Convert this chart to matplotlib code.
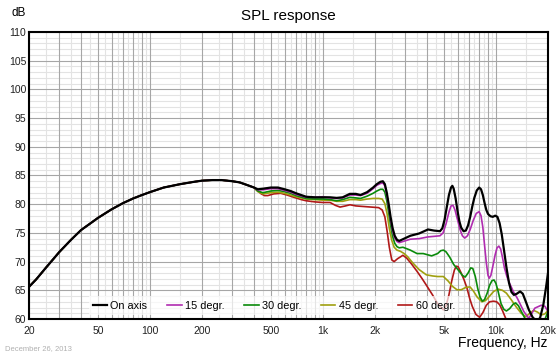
import matplotlib
matplotlib.use("Agg")
import matplotlib.pyplot as plt

plt.rcParams['font.family'] = ['Liberation Sans', 'DejaVu Sans']

# ---------------- data ----------------
base_freq = [20, 22, 25, 30, 35, 40, 45, 50, 60, 70, 80, 90, 100, 120, 150, 180, 200,
             230, 260, 300, 330, 360, 400]
base_db = [65.6, 66.9, 68.9, 71.7, 73.8, 75.5, 76.6, 77.6, 79.1, 80.2, 81.0, 81.6, 82.1,
           82.9, 83.5, 83.9, 84.1, 84.2, 84.2, 84.0, 83.8, 83.4, 82.9]

on_freq = [420, 450, 500, 550, 600, 650, 700, 800, 900, 1000, 1100, 1200, 1300, 1430, 1550,
           1650, 1800, 1950, 2050, 2150, 2220, 2280, 2340, 2400, 2460, 2530, 2600, 2680, 2760,
           2900, 3200, 3600, 4050, 4400, 4750, 4900, 5050, 5200, 5350, 5500, 5600, 5700, 5850,
           6000, 6150, 6300, 6500, 6700, 6900, 7100, 7300, 7500, 7750, 8000, 8200, 8400, 8600,
           8800, 9000, 9300, 9600, 9900, 10200, 10500, 10800, 11100, 11500, 11900, 12300,
           12700, 13200, 13800, 14300, 14900, 15500, 16300, 17200, 18000, 18800, 19500, 20000]
on_db = [82.6, 82.7, 82.9, 82.9, 82.6, 82.3, 81.9, 81.3, 81.2, 81.2, 81.2, 81.1, 81.2, 81.8, 81.8,
         81.6, 82.1, 82.9, 83.5, 83.9, 84.0, 83.5, 82.0, 80.0, 77.8, 75.8, 74.5, 73.8, 73.6,
         73.9, 74.5, 74.9, 75.6, 75.4, 75.3, 75.8, 77.3, 79.5, 81.6, 82.9, 83.2, 82.7, 81.0,
         78.8, 77.0, 75.9, 75.3, 75.4, 76.3, 77.8, 79.6, 81.1, 82.4, 82.9, 82.6, 81.6, 80.2,
         79.0, 78.3, 77.9, 77.8, 78.0, 77.8, 76.7, 74.8, 72.3, 69.0, 66.3, 64.7,
         64.2, 64.4, 64.8, 64.4, 63.0, 61.6, 60.3, 59.6, 60.2, 62.5, 65.6, 68.0]

d15_freq = [420, 450, 500, 550, 600, 650, 700, 800, 900, 1000, 1100, 1200, 1300, 1430, 1550,
            1650, 1800, 1950, 2050, 2150, 2220, 2280, 2340, 2400, 2460, 2530, 2600, 2680, 2760,
            2900, 3200, 3600, 4050, 4400, 4750, 4950, 5150, 5350, 5500, 5650, 5800, 6000, 6200,
            6400, 6600, 6850, 7100, 7400, 7700, 8000, 8200, 8400, 8600, 8800, 9000, 9150, 9350,
            9600, 9900, 10150, 10400, 10650, 10900, 11200, 11600, 12000, 12600, 13300, 14500,
            15500, 16800, 18300, 19200, 20000]
d15_db = [82.5, 82.5, 82.7, 82.7, 82.4, 82.1, 81.7, 81.2, 81.2, 81.3, 81.1, 81.0, 81.1, 81.6, 81.6,
          81.5, 81.9, 82.7, 83.3, 83.6, 83.7, 83.2, 81.6, 79.5, 77.3, 75.3, 74.1, 73.5, 73.3,
          73.5, 73.9, 74.0, 74.3, 74.4, 74.5, 75.0, 76.6, 78.6, 79.7, 79.8, 79.0, 77.3, 75.6,
          74.5, 74.1, 74.5, 75.6, 77.2, 78.4, 78.7, 78.0, 76.0, 72.8, 69.8, 67.6, 67.1, 67.6,
          69.2, 71.2, 72.4, 72.7, 72.2, 70.8, 68.9, 67.3, 66.2, 64.8, 63.6, 61.3,
          60.1, 61.9, 62.4, 62.2, 61.3]

d30_freq = [420, 450, 500, 550, 600, 650, 700, 800, 900, 1000, 1100, 1200, 1300, 1430, 1550,
            1650, 1800, 1950, 2050, 2150, 2220, 2280, 2340, 2400, 2460, 2530, 2600, 2680, 2760,
            2900, 3200, 3500, 3800, 4250, 4600, 4800, 4970, 5150, 5400, 5700, 6070, 6400, 6640,
            6900, 7150, 7350, 7600, 7850, 8100, 8350, 8600, 8900, 9200, 9500, 9750, 10000,
            10300, 10700, 11100, 11500, 12000, 12600, 13000, 13500, 14200, 14900, 15500, 17500,
            18800, 19400, 20000]
d30_db = [82.3, 82.0, 82.3, 82.4, 82.2, 81.9, 81.5, 81.0, 80.9, 80.9, 80.8, 80.6, 80.8, 81.2, 81.1,
          81.0, 81.4, 81.9, 82.3, 82.6, 82.6, 82.1, 80.6, 78.5, 76.4, 74.4, 73.2, 72.6, 72.4,
          72.5, 72.0, 71.4, 71.4, 71.0, 71.4, 71.9, 72.0, 71.7, 70.8, 69.5, 68.5, 67.6, 67.3,
          68.0, 68.9, 68.8, 67.4, 65.3, 63.8, 63.1, 63.4, 64.5, 65.9, 66.7, 66.8, 66.2,
          64.8, 62.7, 61.7, 61.4, 61.8, 62.6, 62.8, 62.3, 61.0, 59.8, 58.0, 57.5,
          59.0, 60.3, 61.3]

d45_freq = [420, 450, 500, 550, 600, 650, 700, 800, 900, 1000, 1100, 1200, 1300, 1430, 1550,
            1650, 1800, 1950, 2100, 2200, 2280, 2350, 2420, 2500, 2580, 2680, 2800, 2950, 3100,
            3300, 3600, 3960, 4300, 4600, 4970, 5300, 5600, 5950, 6300, 6700, 7080, 7400, 7800,
            8300, 8700, 9200, 9700, 10300, 10900, 11500, 12300, 13100, 14000, 14900, 15700,
            16500, 17400, 18300, 19200, 20000]
d45_db = [82.2, 81.8, 82.0, 82.1, 81.9, 81.6, 81.3, 80.9, 80.8, 80.7, 80.7, 80.5, 80.5, 80.8, 80.8,
          80.7, 80.9, 81.0, 81.0, 80.9, 80.1, 78.3, 75.8, 73.7, 72.5, 72.0, 71.8, 71.4, 70.8,
          69.8, 68.6, 67.7, 67.5, 67.4, 67.4, 66.6, 65.7, 65.1, 65.1, 65.5, 65.6, 64.9, 63.8,
          63.0, 63.2, 64.0, 64.8, 65.2, 65.0, 64.5, 63.3, 62.1, 61.0, 60.4, 61.0,
          61.5, 61.2, 60.7, 60.9, 61.5]

d60_freq = [420, 440, 460, 480, 520, 570, 620, 680, 750, 800, 900, 1000, 1100, 1180, 1256, 1350,
            1434, 1550, 1716, 1900, 2100, 2200, 2280, 2350, 2420, 2500, 2580, 2700, 2900, 3050,
            3250, 3500, 3750, 3960, 4300, 4600, 4970, 5150, 5350, 5550, 5750, 5900, 6050, 6300,
            6550, 6800, 7050, 7300, 7660, 8050, 8400, 8800, 9200, 9700, 10100, 10500, 10900,
            11500, 12500, 15000, 20000]
d60_db = [82.3, 81.8, 81.5, 81.5, 81.8, 81.9, 81.6, 81.2, 80.8, 80.6, 80.4, 80.3, 80.3, 79.8, 79.5, 79.7,
          79.9, 79.7, 79.6, 79.5, 79.4, 79.0, 77.8, 75.3, 72.5, 70.3, 70.0, 70.5, 71.1, 70.6,
          69.6, 68.3, 67.0, 65.9, 64.2, 62.7, 61.6, 62.3, 64.2, 66.6, 68.5, 69.2, 69.1, 68.0,
          66.8, 65.4, 63.6, 62.2, 60.8, 60.3, 61.1, 62.4, 63.0, 63.1, 63.0, 62.5, 61.5,
          59.8, 57.5, 55.0, 55.0]

labels = ["On axis", "15 degr.", "30 degr.", "45 degr.", "60 degr."]
colors = ["#000000", "#b02cb0", "#0a8a0a", "#a0a010", "#b01818"]

x_ticks = [20, 50, 100, 200, 500, 1000, 2000, 5000, 10000, 20000]
x_ticklabels = ["20", "50", "100", "200", "500", "1k", "2k", "5k", "10k", "20k"]
y_ticks = [60, 65, 70, 75, 80, 85, 90, 95, 100, 105, 110]

# ---------------- figure ----------------
fig = plt.figure(figsize=(5.6, 3.56), dpi=100)
ax = fig.add_axes([29 / 560, 1 - 319 / 356, 519 / 560, 287 / 356])
ax.set_xscale('log')
ax.set_xlim(20, 20000)
ax.set_ylim(60, 110)

# grid
dark = "#a6a6a6"
light = "#e3e3e3"
for dec in [10, 100, 1000, 10000]:
    for k in range(1, 10):
        f = k * dec
        if 20 <= f <= 20000:
            ax.axvline(f, color=dark, lw=0.8, zorder=1)
        fh = (k + 0.5) * dec
        if 20 < fh < 20000:
            ax.axvline(fh, color=light, lw=0.8, zorder=0.5)
for v in range(60, 111):
    if v % 5 == 0:
        ax.axhline(v, color=dark, lw=0.8, zorder=1)
    else:
        ax.axhline(v, color=light, lw=0.8, zorder=0.5)

series = [
    (base_freq + on_freq, base_db + on_db),
    (base_freq + d15_freq, base_db + d15_db),
    (base_freq + d30_freq, base_db + d30_db),
    (base_freq + d45_freq, base_db + d45_db),
    (base_freq + d60_freq, base_db + d60_db),
]
lws = [1.6, 1.2, 1.2, 1.2, 1.2]
handles = []
for i, ((f, d), lab, c, lw) in enumerate(zip(series, labels, colors, lws)):
    h, = ax.plot(f, d, color=c, lw=lw, label=lab, zorder=10 - i,
                 solid_joinstyle='round')
    handles.append(h)

ax.set_xticks(x_ticks)
ax.set_xticklabels(x_ticklabels)
ax.set_xticks([], minor=True)
ax.set_yticks(y_ticks)
ax.tick_params(axis='both', which='both', length=0, labelsize=7.5, colors='#222222')
ax.tick_params(axis='x', pad=5)
ax.tick_params(axis='y', pad=2)
for s in ax.spines.values():
    s.set_linewidth(1.5)
    s.set_color('black')
    s.set_zorder(20)

leg = ax.legend(handles=handles, loc='lower center', bbox_to_anchor=(0.472, -0.005), ncol=5,
                fontsize=7.8, handlelength=1.3, handletextpad=0.3, columnspacing=1.85,
                frameon=True, framealpha=0.7, edgecolor='none', facecolor='white',
                borderpad=0.4, fancybox=False)
leg.set_zorder(15)

fig.text(288 / 560, 1 - 16 / 356, "SPL response", ha='center', va='center', fontsize=11)
fig.text(12 / 560, 1 - 13 / 356, "dB", ha='left', va='center', fontsize=8.5)
fig.text(548 / 560, 1 - 343 / 356, "Frequency, Hz", ha='right', va='center', fontsize=10)
fig.text(5 / 560, 1 - 349 / 356, "December 26, 2013", ha='left', va='center', fontsize=5.5,
         color='#b0b0b0')

fig.savefig("out.png", dpi=100)
